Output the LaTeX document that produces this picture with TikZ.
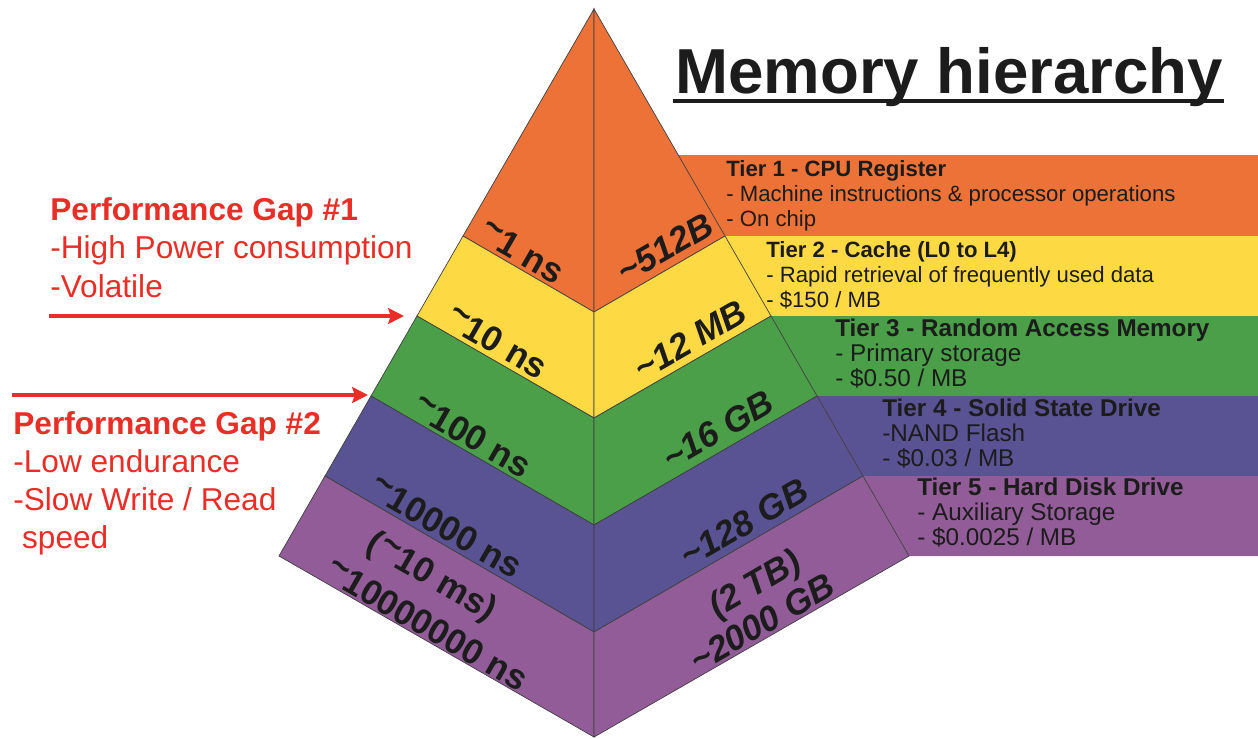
\documentclass[tikz,border=0pt]{standalone}
\usepackage{fontspec}
\setmainfont{Liberation Sans}
\usetikzlibrary{arrows.meta}
\usetikzlibrary{calc}

\definecolor{tierone}{RGB}{237,114,56}
\definecolor{tiertwo}{RGB}{253,218,68}
\definecolor{tierthree}{RGB}{74,159,72}
\definecolor{tierfour}{RGB}{89,82,147}
\definecolor{tierfive}{RGB}{146,92,152}
\definecolor{gapred}{RGB}{232,46,38}
\definecolor{inkdark}{RGB}{28,28,28}

\newcommand{\hightilde}{\raisebox{0.22em}{\textasciitilde}}

\tikzset{
	edgeline/.style={draw=black!75, line width=0.4pt},
	facelabel/.style={inner sep=0pt, text=inkdark, font=\fontsize{20}{20}\selectfont\bfseries},
	sizelabel/.style={facelabel, font=\fontsize{20}{20}\selectfont\bfseries\itshape},
	tiertext/.style={anchor=north west, align=left, inner sep=0pt, text=inkdark, font=\fontsize{12.6}{14.2}\selectfont},
	tierwide/.style={tiertext, font=\fontsize{13.8}{14.2}\selectfont},
	gaptext/.style={anchor=north west, align=left, inner sep=0pt, text=gapred, font=\fontsize{18}{22}\selectfont},
	gaparrow/.style={draw=gapred, line width=2.3pt, -{Stealth[length=9pt, width=9pt, inset=1.5pt]}}
}

\begin{document}
\begin{tikzpicture}[x=0.02cm, y=-0.02cm]
	\useasboundingbox (0,0) rectangle (1258,738);

	% corner points of the pyramid
	\coordinate (apex) at (594,9);
	\coordinate (e0) at (678,155);
	\coordinate (l1) at (463,236); \coordinate (c1) at (594,312); \coordinate (r1) at (725,236);
	\coordinate (l2) at (417,316); \coordinate (c2) at (594,418); \coordinate (r2) at (771,316);
	\coordinate (l3) at (371,396); \coordinate (c3) at (594,525); \coordinate (r3) at (817,396);
	\coordinate (l4) at (325,476); \coordinate (c4) at (594,632); \coordinate (r4) at (863,476);
	\coordinate (l5) at (279,556); \coordinate (c5) at (594,737); \coordinate (r5) at (909,556);

	% tier bands behind the pyramid
	\fill[tierone] (e0) -- (1258,155) -- (1258,236) -- (r1) -- cycle;
	\fill[tiertwo] (r1) -- (1258,236) -- (1258,316) -- (r2) -- cycle;
	\fill[tierthree] (r2) -- (1258,316) -- (1258,396) -- (r3) -- cycle;
	\fill[tierfour] (r3) -- (1258,396) -- (1258,476) -- (r4) -- cycle;
	\fill[tierfive] (r4) -- (1258,476) -- (1258,556) -- (r5) -- cycle;

	% pyramid faces
	\filldraw[fill=tierone, edgeline] (apex) -- (l1) -- (c1) -- cycle;
	\filldraw[fill=tierone, edgeline] (apex) -- (c1) -- (r1) -- cycle;
	\foreach \k/\j/\col in {2/1/tiertwo, 3/2/tierthree, 4/3/tierfour, 5/4/tierfive} {
		\filldraw[fill=\col, edgeline] (l\j) -- (l\k) -- (c\k) -- (c\j) -- cycle;
		\filldraw[fill=\col, edgeline] (c\j) -- (c\k) -- (r\k) -- (r\j) -- cycle;
	}

	% access times on the left face
	\node[facelabel, rotate=-30] (tone) at (522,252) {\hightilde 1 ns};
	\node[facelabel, rotate=-30] (ttwo) at (497,342) {\hightilde 10 ns};
	\node[facelabel, rotate=-30] (tthree) at (472,436) {\hightilde 100 ns};
	\node[facelabel, rotate=-30] (tfour) at (446,527) {\hightilde 10000 ns};
	\node[facelabel, rotate=-30] (tfivea) at (431,578) {(\hightilde 10 ms)};
	\node[facelabel, rotate=-30] (tfiveb) at (427,625) {\hightilde 10000000 ns};

	% sizes on the right face
	\node[sizelabel, rotate=30] (sone) at (665,248) {\textasciitilde 512B};
	\node[sizelabel, rotate=30] (stwo) at (690,340) {\textasciitilde 12 MB};
	\node[sizelabel, rotate=30] (sthree) at (718,430) {\textasciitilde 16 GB};
	\node[sizelabel, rotate=30] (sfour) at (744,523) {\textasciitilde 128 GB};
	\node[sizelabel, rotate=30] (sfivea) at (756,586) {(2 TB)};
	\node[sizelabel, rotate=30] (sfiveb) at (762,623) {\textasciitilde 2000 GB};

	% tier descriptions
	\node[tiertext] (tierone) at (726,160) {\textbf{Tier 1 - CPU Register}\\- Machine instructions \& processor operations\\- On chip};
	\node[tiertext] (tiertwo) at (766,241) {\textbf{Tier 2 - Cache (L0 to L4)}\\- Rapid retrieval of frequently used data\\- \$150 / MB};
	\node[tierwide] (tierthree) at (835,319) {\textbf{Tier 3 - Random Access Memory}\\- Primary storage\\- \$0.50 / MB};
	\node[tierwide] (tierfour) at (882,399) {\textbf{Tier 4 - Solid State Drive}\\-NAND Flash\\- \$0.03 / MB};
	\node[tierwide] (tierfive) at (917,478) {\textbf{Tier 5 - Hard Disk Drive}\\- Auxiliary Storage\\- \$0.0025 / MB};

	% title
	\node[anchor=base west, inner sep=0pt, text=inkdark, font=\fontsize{36.2}{40}\selectfont\bfseries] (title) at (675,93) {Memory hierarchy};
	\draw[inkdark, line width=2.8pt] ($(title.base west)+(-2,8)$) -- ($(title.base east)+(0,8)$);

	% performance gaps
	\node[gaptext] (gapone) at (50,197) {\textbf{Performance Gap \#1}\\-High Power consumption\\-Volatile};
	\node[gaptext, font=\fontsize{18}{21.7}\selectfont] (gaptwo) at (13,411) {\textbf{Performance Gap \#2}\\-Low endurance\\-Slow Write / Read\\\ speed};
	\coordinate (gaponetail) at (49,316);
	\coordinate (gaponetip) at (404,316);
	\coordinate (gaptwotail) at (12,395);
	\coordinate (gaptwotip) at (368,395);
	\draw[gaparrow] (gaponetail) -- (gaponetip);
	\draw[gaparrow] (gaptwotail) -- (gaptwotip);
\end{tikzpicture}
\end{document}
